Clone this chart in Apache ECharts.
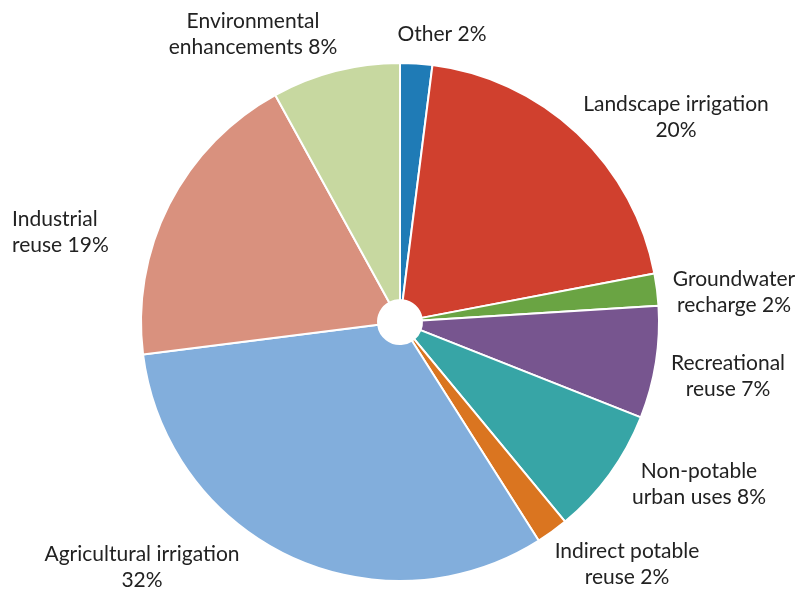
<!DOCTYPE html>
<html>
<head>
<meta charset="utf-8">
<script src="https://cdn.jsdelivr.net/npm/echarts@6/dist/echarts.min.js"></script>
<style>html,body{margin:0;padding:0;background:#fff}#c{width:800px;height:590px}</style>
</head>
<body>
<div id="c"></div>
<script>
const categories = ["Other", "Landscape irrigation", "Groundwater recharge", "Recreational reuse", "Non-potable urban uses", "Indirect potable reuse", "Agricultural irrigation", "Industrial reuse", "Environmental enhancements"];
const values = [2, 20, 2, 7, 8, 2, 32, 19, 8];
const labelTexts = ["Other 2%", "Landscape irrigation\n20%", "Groundwater\nrecharge 2%", "Recreational\nreuse 7%", "Non-potable\nurban uses 8%", "Indirect potable\nreuse 2%", "Agricultural irrigation\n32%", "Industrial\nreuse 19%", "Environmental\nenhancements 8%"];
const colors = ["#1f7bb6", "#d0402e", "#6aa443", "#77558f", "#37a5a6", "#da7520", "#82aedc", "#d9917e", "#c7d8a0"];

// label anchor placement (layout only)
const labelAnchors = [[442, 34, 'center'], [676, 117, 'center'], [734, 292, 'center'], [728, 376, 'center'], [699, 484, 'center'], [627, 564, 'center'], [142, 567, 'center'], [12, 232, 'left'], [253, 34, 'center']];

const chart = echarts.init(document.getElementById('c'));
chart.setOption({
  animation: false,
  series: [{
    type: 'pie',
    center: [400, 322],
    radius: [22, 259],
    startAngle: 90,
    clockwise: true,
    itemStyle: { borderColor: '#fff', borderWidth: 2 },
    label: {
      show: true,
      position: 'outside',
      overflow: 'none',
      fontFamily: 'Lato',
      fontSize: 21,
      lineHeight: 26,
      color: '#222',
      formatter: p => labelTexts[p.dataIndex]
    },
    labelLine: { show: false },
    labelLayout: function (params) {
      const a = labelAnchors[params.dataIndex];
      return { x: a[0], y: a[1], align: a[2], verticalAlign: 'middle', hideOverlap: false };
    },
    data: categories.map((c, i) => ({ name: c, value: values[i], itemStyle: { color: colors[i] } }))
  }]
});
</script>
</body>
</html>
